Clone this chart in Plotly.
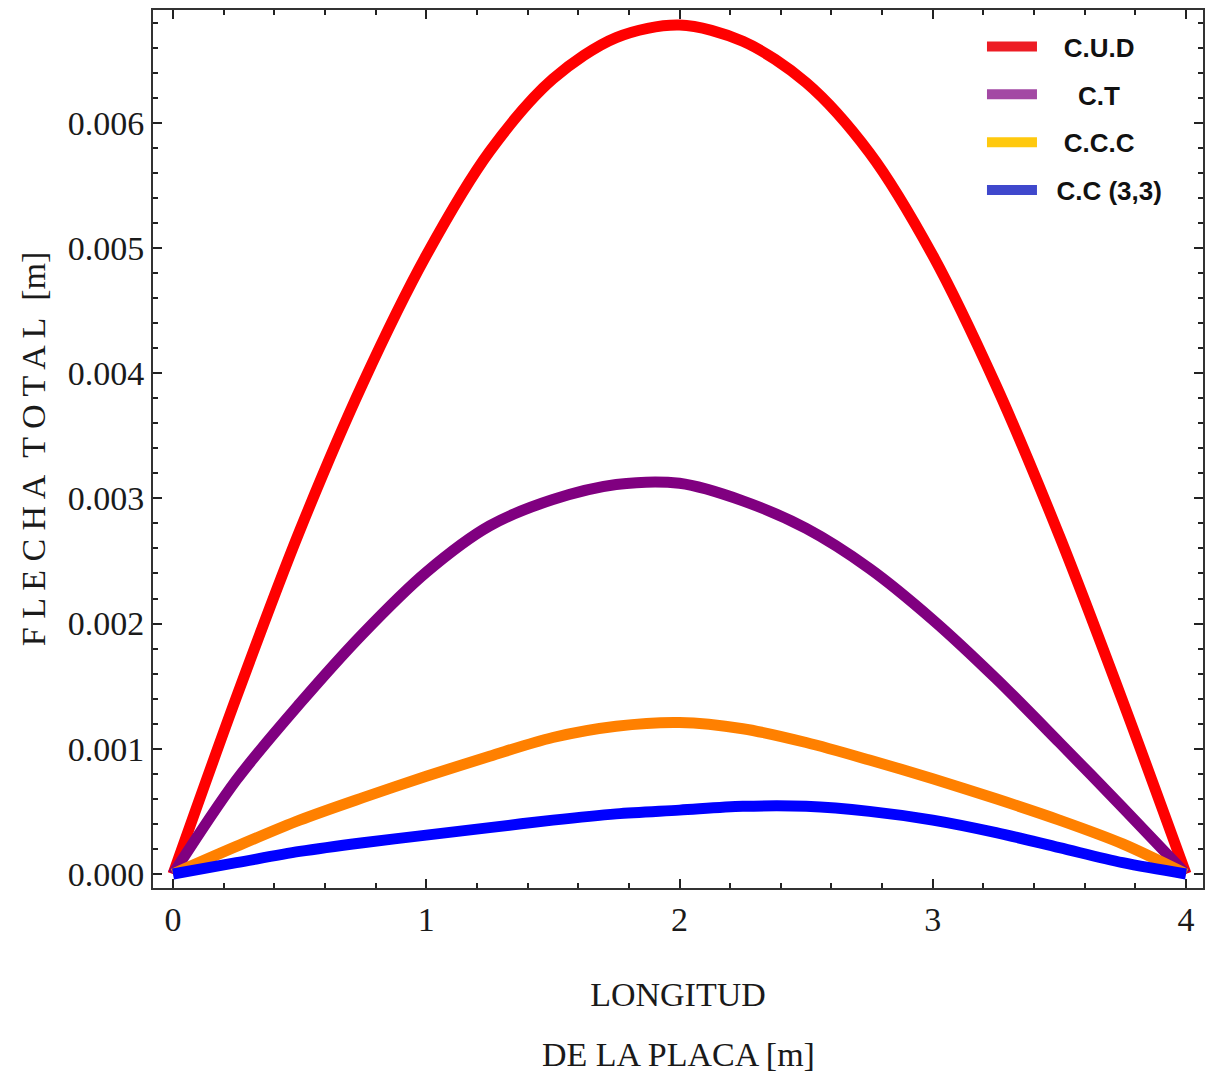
import plotly.graph_objects as go

# Data
x_vals = [0, 0.25, 0.5, 0.75, 1.0, 1.25, 1.5, 1.75, 2.0, 2.25, 2.5, 2.75, 3.0, 3.25, 3.5, 3.75, 4.0]
cud = [0, 0.00141, 0.00274, 0.00392, 0.00494, 0.00577, 0.00635, 0.00668, 0.00678,
       0.00665, 0.00632, 0.00576, 0.00494, 0.00390, 0.00270, 0.00138, 0]
ct = [0, 0.00075, 0.00136, 0.00192, 0.00241, 0.00278, 0.00299, 0.00311, 0.00312,
      0.00298, 0.00276, 0.00244, 0.00203, 0.00156, 0.00105, 0.00053, 0]
ccc = [0, 0.00022, 0.00043, 0.00061, 0.00078, 0.00094, 0.00109, 0.00118, 0.00121,
       0.00116, 0.00105, 0.00091, 0.00076, 0.00060, 0.00043, 0.00024, 0]
cc33 = [0, 0.00009, 0.00018, 0.00025, 0.00031, 0.00037, 0.00043, 0.00048, 0.00051,
        0.00054, 0.00054, 0.00050, 0.00043, 0.00033, 0.00021, 0.00009, 0]

series_names = ["C.U.D", "C.T", "C.C.C", "C.C (3,3)"]
legend_labels = ["\u00a0\u00a0\u00a0C.U.D", "\u00a0\u00a0\u00a0\u00a0\u00a0C.T",
                 "\u00a0\u00a0\u00a0C.C.C", "\u00a0\u00a0C.C (3,3)"]
series_values = [cud, ct, ccc, cc33]
line_colors = ["#ff0000", "#800080", "#ff8000", "#0000ff"]
legend_colors = ["#ed1c24", "#a349a4", "#ffc90e", "#3f48cc"]

x_ticks = [0, 1, 2, 3, 4]
y_ticks = [0.000, 0.001, 0.002, 0.003, 0.004, 0.005, 0.006]

fig = go.Figure()
for name, vals, col in zip(series_names, series_values, line_colors):
    fig.add_trace(go.Scatter(x=x_vals, y=vals, mode="lines", name=name,
                             line=dict(color=col, width=11, shape="spline", smoothing=0.9),
                             showlegend=False))
for i, (lab, col) in enumerate(zip(legend_labels, legend_colors)):
    fig.add_trace(go.Scatter(x=[None], y=[None], mode="lines", name=lab,
                             legendgroup="g%d" % i,
                             line=dict(color=col, width=12)))

serif = "Liberation Serif"
axis_common = dict(showline=True, linecolor="#333333", linewidth=2, mirror="allticks",
                   ticks="inside", ticklen=9, tickwidth=2, tickcolor="#222222",
                   showgrid=False, zeroline=False,
                   tickfont=dict(family=serif, size=34, color="#1a1a1a"))

fig.update_xaxes(range=[-0.079, 4.067], tickvals=x_ticks,
                 ticktext=[str(v) for v in x_ticks],
                 minor=dict(dtick=0.2, ticks="inside", ticklen=5, tickwidth=2, tickcolor="#222222"),
                 title=dict(text="LONGITUD", font=dict(family=serif, size=34, color="#1a1a1a"),
                            standoff=45),
                 **axis_common)
fig.update_yaxes(range=[-0.000112, 0.0069], tickvals=y_ticks,
                 ticktext=["%.3f" % v for v in y_ticks],
                 minor=dict(dtick=0.0002, ticks="inside", ticklen=5, tickwidth=2, tickcolor="#222222"),
                 title=dict(text="F L E C H A&#160;&#160;T O T A L&#160;&#160;[m]",
                            font=dict(family=serif, size=34, color="#1a1a1a"), standoff=12),
                 **axis_common)

fig.add_annotation(text="DE LA PLACA [m]", xref="paper", yref="paper",
                   x=0.5, y=-0.19, yanchor="middle", showarrow=False,
                   font=dict(family=serif, size=34, color="#1a1a1a"))

fig.update_layout(
    width=1207, height=1083,
    margin=dict(l=153, r=2, t=10, b=195),
    paper_bgcolor="white", plot_bgcolor="white",
    showlegend=True,
    legend=dict(x=0.7895, y=0.985, xanchor="left", yanchor="top",
                bgcolor="rgba(0,0,0,0)", tracegroupgap=11, itemwidth=50,
                font=dict(family="Liberation Sans", size=26, color="#111111"),
                traceorder="grouped"),
)
fig.update_layout(legend_font_weight="bold")

fig.write_html("out.html")
